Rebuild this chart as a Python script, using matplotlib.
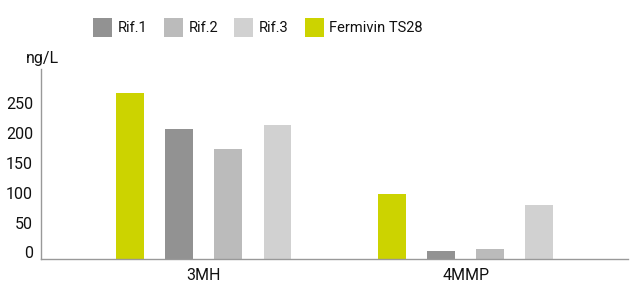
import matplotlib

matplotlib.use("Agg")
import matplotlib.pyplot as plt
import matplotlib.transforms as mtransforms
import numpy as np
from matplotlib.patches import Patch

plt.rcParams["font.family"] = ["Roboto", "DejaVu Sans"]

TEXT = "#111111"
AXIS = "#999999"

categories = ["3MH", "4MMP"]
series = ["Fermivin TS28", "Rif.1", "Rif.2", "Rif.3"]
colors = ["#CCD300", "#929292", "#BBBBBB", "#D1D1D1"]
values = {
    "Fermivin TS28": [276, 107],
    "Rif.1": [216, 12],
    "Rif.2": [183, 16],
    "Rif.3": [222, 89],
}
yticks = [0, 50, 100, 150, 200, 250]
legend_order = ["Rif.1", "Rif.2", "Rif.3", "Fermivin TS28"]

fig = plt.figure(figsize=(6.32, 2.92), dpi=100)
ax = fig.add_axes([41.3 / 632, (292 - 258.5) / 292, (628 - 41.3) / 632, (258.5 - 69) / 292])

x = np.arange(len(categories))
step = 0.1874
width = 0.105
for i, name in enumerate(series):
    ax.bar(x + (i - 1.5) * step, values[name], width=width, color=colors[i], zorder=2)

ax.set_xlim(-0.62, 1.62)
ax.set_ylim(0, 316)
ax.set_xticks(x)
ax.set_xticklabels(categories)
ax.set_yticks(yticks)
ax.tick_params(axis="both", length=0, labelsize=11.5, colors=TEXT)
ax.tick_params(axis="y", pad=6)
ax.tick_params(axis="x", pad=7)

# tick labels in the reference sit a few pixels above their values
offset = mtransforms.ScaledTranslation(0, 6 / 100, fig.dpi_scale_trans)
for lbl in ax.get_yticklabels():
    lbl.set_transform(lbl.get_transform() + offset)

for side in ["top", "right"]:
    ax.spines[side].set_visible(False)
for side in ["left", "bottom"]:
    ax.spines[side].set_color(AXIS)
    ax.spines[side].set_linewidth(1)
    ax.spines[side].set_zorder(3)

fig.text(42 / 632, 1 - 58 / 292, "ng/L", ha="center", va="center", fontsize=11.5, color=TEXT)

handles = [Patch(facecolor=colors[series.index(n)], edgecolor="none") for n in legend_order]
fig.legend(
    handles,
    legend_order,
    loc="center",
    bbox_to_anchor=(258 / 632, 1 - 27.5 / 292),
    ncol=4,
    frameon=False,
    fontsize=10.5,
    handlelength=1.3,
    handleheight=1.55,
    handletextpad=0.4,
    columnspacing=1.1,
    labelcolor=TEXT,
)

fig.savefig("out.png", dpi=100, facecolor="white")
